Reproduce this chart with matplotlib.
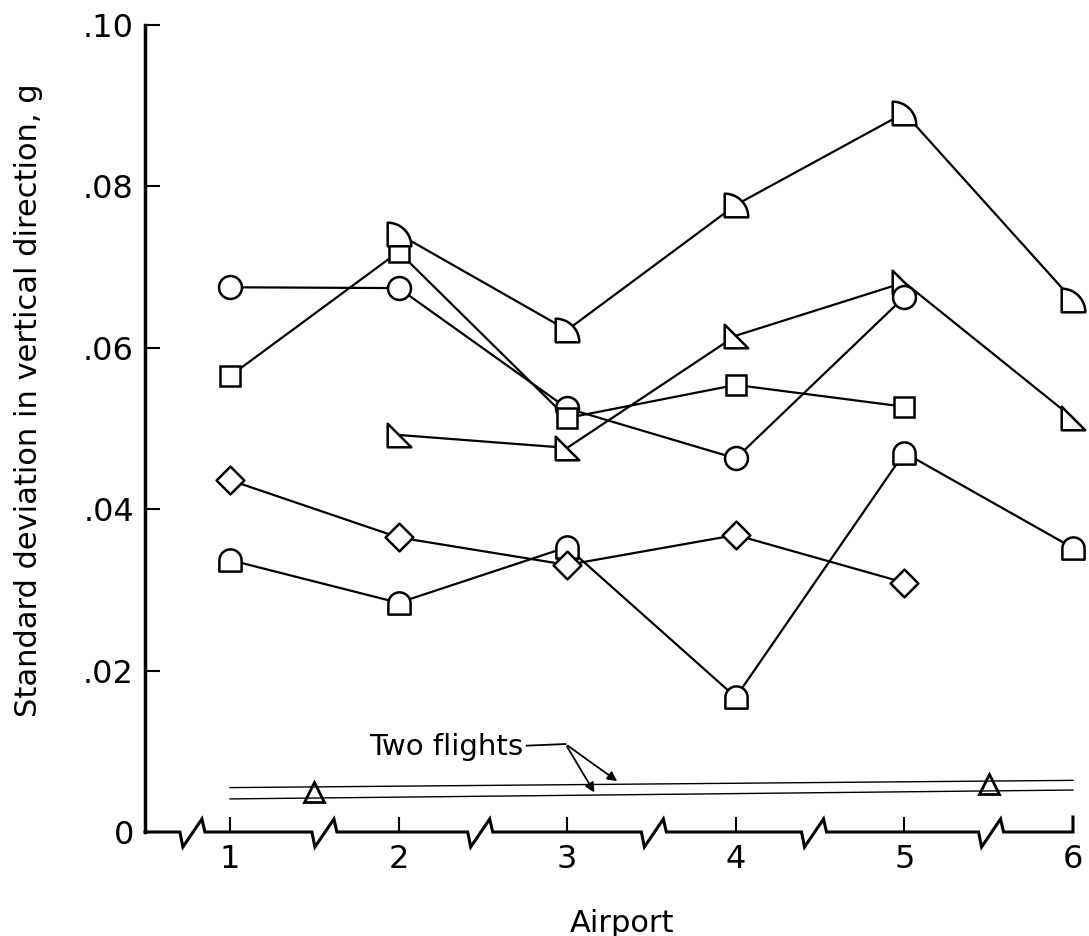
import numpy as np
import matplotlib
matplotlib.use("Agg")
import matplotlib.pyplot as plt
from matplotlib.path import Path
from matplotlib import font_manager

# pick a narrow face if one is installed
names = set(f.name for f in font_manager.fontManager.ttflist)
fams = [n for n in ['Liberation Sans Narrow', 'DejaVu Sans Condensed'] if n in names]
plt.rcParams['font.family'] = fams + ['DejaVu Sans']

# data
airports = [1, 2, 3, 4, 5, 6]
circle_x = [1, 2, 3, 4, 5]
circle_y = [0.0675, 0.0674, 0.0525, 0.0463, 0.0663]
square_x = [1, 2, 3, 4, 5]
square_y = [0.0565, 0.0719, 0.0513, 0.0554, 0.0527]
quarter_x = [2, 3, 4, 5, 6]
quarter_y = [0.0741, 0.0622, 0.0777, 0.0891, 0.0659]
rtri_x = [2, 3, 4, 5, 6]
rtri_y = [0.0492, 0.0476, 0.0615, 0.0681, 0.0513]
diamond_x = [1, 2, 3, 4, 5]
diamond_y = [0.0436, 0.0365, 0.0331, 0.0368, 0.0309]
dome_x = [1, 2, 3, 4, 5, 6]
dome_y = [0.0337, 0.0284, 0.0353, 0.0167, 0.0470, 0.0352]
# two flights lines
flight1_x = [1, 6]
flight1_y = [0.0055, 0.0064]
flight2_x = [1, 6]
flight2_y = [0.0041, 0.0052]
flight_tri_x = [1.5, 5.5]
flight_tri_y = [0.0049, 0.0060]

yticks = [0, 0.02, 0.04, 0.06, 0.08, 0.10]
ytick_labels = ['0', '.02', '.04', '.06', '.08', '.10']

# custom marker shapes
th = np.linspace(0, np.pi / 2, 25)
quarter = Path(np.vstack([[-1, -1], np.column_stack([-1 + 2 * np.cos(th), -1 + 2 * np.sin(th)]), [-1, -1]]), closed=True)
th2 = np.linspace(0, np.pi, 25)
dome = Path(np.vstack([[-1, -1], [1, -1], np.column_stack([np.cos(th2), np.sin(th2)]), [-1, -1]]), closed=True)
rtri = Path([(-1, -1), (1, -1), (-1, 1), (-1, -1)], closed=True)
diamond = Path([(0, 1), (1, 0), (0, -1), (-1, 0), (0, 1)], closed=True)

fig = plt.figure(figsize=(10.89, 9.36), dpi=100)
ax = fig.add_axes([145 / 1089, 1 - 832 / 936, 1 - 145 / 1089, (832 - 25) / 936])

style = dict(color='black', lw=1.6, mfc='white', mec='black', mew=1.8, clip_on=False, zorder=3)
ax.plot(dome_x, dome_y, marker=dome, ms=16, **style)
ax.plot(diamond_x, diamond_y, marker=diamond, ms=20, **style)
ax.plot(rtri_x, rtri_y, marker=rtri, ms=17, **style)
ax.plot(circle_x, circle_y, marker='o', ms=16.5, **style)
ax.plot(square_x, square_y, marker='s', ms=15, **style)
ax.plot(quarter_x, quarter_y, marker=quarter, ms=17, **style)

ax.plot(flight1_x, flight1_y, color='black', lw=1.0, zorder=2)
ax.plot(flight2_x, flight2_y, color='black', lw=1.0, zorder=2)
ax.plot(flight_tri_x, flight_tri_y, ls='none', marker='^', ms=15, mfc='none', mec='black', mew=2, zorder=3)

# annotation
ax.text(2.74, 0.0105, 'Two flights', ha='right', va='center', fontsize=21)
ax.plot([2.76, 2.99], [0.0107, 0.0109], color='black', lw=1.3)
for tx, ty in [(3.17, 0.0046), (3.31, 0.0061)]:
    ax.annotate('', xy=(tx, ty), xytext=(2.99, 0.0109),
                arrowprops=dict(arrowstyle='-|>', color='black', lw=1.3, mutation_scale=14))

# broken x axis with zigzags
breaks = [0.703, 1.486, 2.41, 3.44, 4.39, 5.44]
xmin, xmax = 0.496, 6.095
px_x = 1 / 168.6
px_y = 0.02 / 161.4
xs = [xmin]
ys = [0]
for b in breaks:
    xs += [b, b + 3 * px_x, b + 22 * px_x, b + 25 * px_x]
    ys += [0, -15 * px_y, 13 * px_y, 0]
xs += [6, 6]
ys += [0, 15 * px_y]
ax.plot(xs, ys, color='black', lw=2.2, clip_on=False, zorder=4, solid_joinstyle='miter')

ax.set_xlim(xmin, xmax)
ax.set_ylim(0, 0.10)
ax.set_xticks(airports)
ax.set_xticklabels([str(a) for a in airports])
ax.set_yticks(yticks)
ax.set_yticklabels(ytick_labels)
for s in ['top', 'right', 'bottom']:
    ax.spines[s].set_visible(False)
ax.spines['left'].set_linewidth(2.5)
ax.tick_params(axis='y', direction='in', length=11, width=1.5, labelsize=23, pad=8)
ax.tick_params(axis='x', direction='in', length=11, width=1.5, labelsize=23, pad=9)

ax.set_ylabel('Standard deviation in vertical direction, g', fontsize=22)
ax.yaxis.set_label_coords(-0.108, 0.535)
ax.set_xlabel('Airport', fontsize=22)
ax.xaxis.set_label_coords(0.505, -0.095)

fig.savefig('out.png', dpi=100)
